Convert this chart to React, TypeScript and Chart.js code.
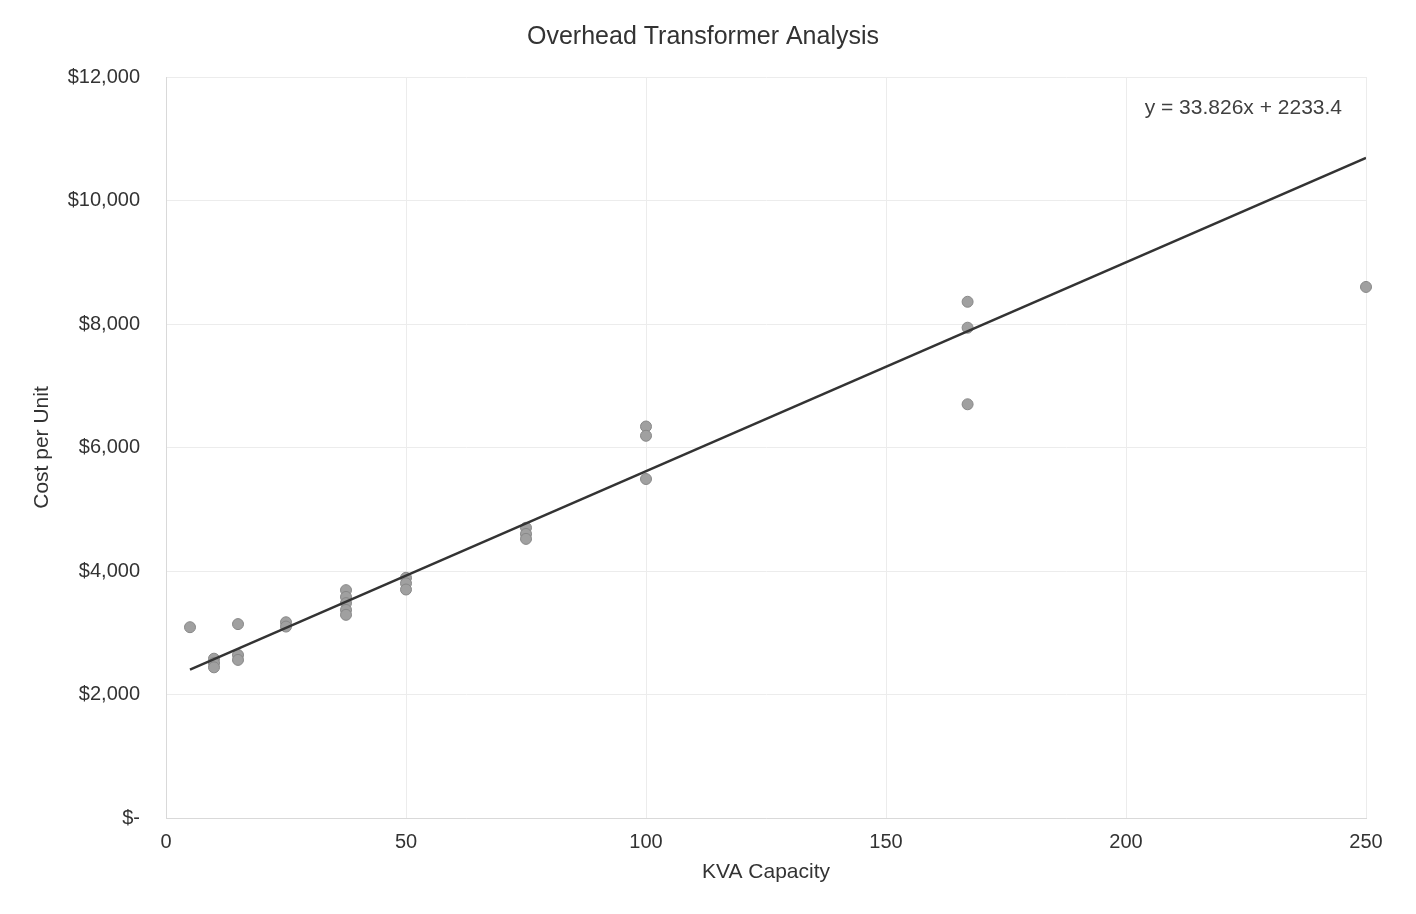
import React, { useEffect, useRef } from "react";
import { Chart, registerables } from "chart.js";

Chart.register(...registerables);

const kva: number[] = [5, 10, 10, 10, 15, 15, 15, 25, 25, 37.5, 37.5, 37.5, 37.5, 37.5, 50, 50, 50, 75, 75, 75, 100, 100, 100, 167, 167, 167, 250];
const cost: number[] = [3090, 2580, 2510, 2440, 3140, 2640, 2560, 3170, 3100, 3690, 3580, 3480, 3370, 3290, 3890, 3800, 3700, 4700, 4600, 4520, 6340, 6190, 5490, 8360, 7940, 6700, 8600];
const trendX: number[] = [5, 250];
const trendY: number[] = [2402.5, 10689.9];
const yTicks: number[] = [0, 2000, 4000, 6000, 8000, 10000, 12000];
const xTicks: number[] = [0, 50, 100, 150, 200, 250];
const equationLabel = "y = 33.826x + 2233.4";
const chartTitle = "Overhead Transformer Analysis";
const xTitle = "KVA Capacity";
const yTitle = "Cost per Unit";

const FONT = "'Liberation Sans', Arial, sans-serif";

function fmtDollar(v: number): string {
  if (v === 0) return "$-";
  return "$" + v.toLocaleString("en-US");
}

export default function App() {
  const ref = useRef<HTMLCanvasElement | null>(null);
  useEffect(() => {
    document.body.style.margin = "0";
    const canvas = ref.current;
    if (!canvas) return;
    const textPlugin = {
      id: "textLabels",
      afterDatasetsDraw(chart: any) {
        const { ctx, chartArea, width } = chart;
        ctx.save();
        ctx.font = `21px ${FONT}`;
        ctx.fillStyle = "#404040";
        ctx.textAlign = "right";
        ctx.textBaseline = "middle";
        ctx.fillText(equationLabel, chartArea.right - 24, chartArea.top + 31);
        ctx.font = `25px ${FONT}`;
        ctx.fillStyle = "#333333";
        ctx.textAlign = "center";
        ctx.fillText(chartTitle, width / 2 - 5, 37);
        ctx.restore();
      },
    };
    const chart = new Chart(canvas, {
      type: "scatter",
      data: {
        datasets: [
          {
            label: "Cost",
            data: kva.map((x, i) => ({ x, y: cost[i] })),
            backgroundColor: "#a0a0a0",
            borderColor: "#888888",
            borderWidth: 1,
            pointRadius: 5.5,
            clip: false,
            order: 2,
          } as any,
          {
            label: "Linear",
            type: "line",
            data: trendX.map((x, i) => ({ x, y: trendY[i] })),
            borderColor: "#333333",
            borderWidth: 2.5,
            pointRadius: 0,
            fill: false,
            order: 1,
          } as any,
        ],
      },
      options: {
        animation: false,
        responsive: false,
        devicePixelRatio: 1,
        layout: { padding: { left: 0, right: 50, top: 77, bottom: 0 } },
        plugins: {
          legend: { display: false },
          tooltip: { enabled: false },
          title: { display: false },
        },
        scales: {
          x: {
            type: "linear",
            min: 0,
            max: 250,
            afterBuildTicks(scale: any) {
              scale.ticks = xTicks.map((v) => ({ value: v }));
            },
            afterFit(scale: any) {
              scale.height = 96;
            },
            ticks: {
              color: "#333333",
              font: { family: FONT, size: 20 },
              padding: 12,
              maxRotation: 0,
            },
            grid: { color: "#ececec", lineWidth: 1, drawTicks: false },
            border: { color: "#d9d9d9" },
            title: {
              display: true,
              text: xTitle,
              color: "#333333",
              font: { family: FONT, size: 21 },
              padding: { top: 6, bottom: 29 },
            },
          },
          y: {
            type: "linear",
            min: 0,
            max: 12000,
            afterBuildTicks(scale: any) {
              scale.ticks = yTicks.map((v) => ({ value: v }));
            },
            afterFit(scale: any) {
              scale.width = 166;
            },
            ticks: {
              color: "#333333",
              font: { family: FONT, size: 20 },
              padding: 26,
              callback: (v: any) => fmtDollar(Number(v)),
            },
            grid: { color: "#ececec", lineWidth: 1, drawTicks: false },
            border: { color: "#d9d9d9" },
            title: {
              display: true,
              text: yTitle,
              color: "#333333",
              font: { family: FONT, size: 21 },
              padding: { top: 30, bottom: 0 },
            },
          },
        },
      },
      plugins: [textPlugin],
    });
    return () => chart.destroy();
  }, []);
  return (
    <div style={{ width: 1416, height: 914, background: "#ffffff" }}>
      <canvas ref={ref} width={1416} height={914} style={{ display: "block" }} />
    </div>
  );
}
